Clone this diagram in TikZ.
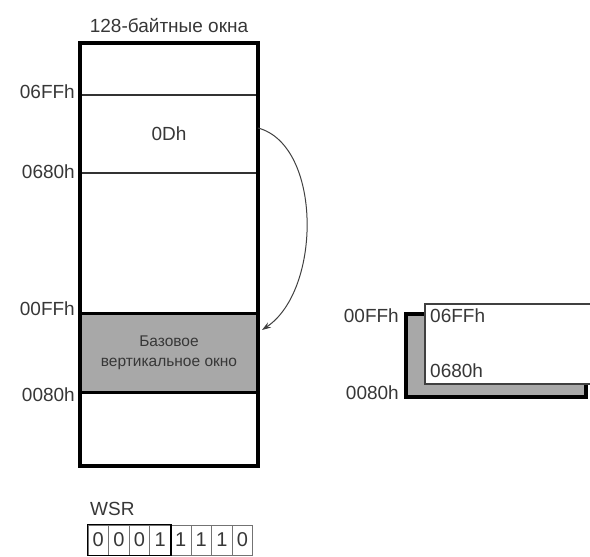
\documentclass[tikz,border=0pt]{standalone}
\usepackage{fontspec}
\setmainfont{Liberation Sans}
\usetikzlibrary{arrows.meta}
\definecolor{fillgray}{RGB}{168,168,168}
\definecolor{txt}{RGB}{55,55,55}
\begin{document}
\begin{tikzpicture}[x=1pt,y=-1pt,
  lbl/.style={font=\fontsize{19}{22}\selectfont, text=txt, inner sep=0pt},
  thickline/.style={line width=3.5pt, black},
  thinline/.style={line width=1.8pt, black!80},
  bitcell/.style={draw=black!55, line width=1pt, minimum width=20.6pt, minimum height=30pt, inner sep=0pt, font=\fontsize{20}{22}\selectfont, text=txt},
  curvearrow/.style={line width=1pt, black!75, -{Stealth[length=9pt,width=6pt]}}]
\useasboundingbox (0,0) rectangle (590,557);

% title
\node[lbl, anchor=base] (title) at (169,32) {128-байтные окна};

% gray base window
\node[fill=fillgray, draw=black, line width=3.5pt, minimum width=178pt, minimum height=79pt, inner sep=0pt,
      align=center, font=\fontsize{15.5}{20}\selectfont, text=txt] (base) at (169,353)
      {Базовое\\вертикальное окно};

% window 0Dh (between 06FFh and 0680h)
\node[minimum width=178pt, minimum height=78pt, inner sep=0pt, lbl] (win) at (169,134) {0Dh};
\draw[thinline] (win.north west) -- (win.north east);
\draw[thinline] (win.south west) -- (win.south east);

% main box
\node[draw=black, line width=3.5pt, minimum width=178pt, minimum height=423pt, inner sep=0pt] (main) at (169,254.5) {};

% address labels
\node[lbl, anchor=base east] (l1) at (75,98) {06FFh};
\node[lbl, anchor=base east] (l2) at (75,178) {0680h};
\node[lbl, anchor=base east] (l3) at (75,315) {00FFh};
\node[lbl, anchor=base east] (l4) at (75,401) {0080h};

% curved arrow
\coordinate (a1) at (258,128);
\coordinate (a2) at (262,330);
\draw[curvearrow] (a1) .. controls (322,145) and (322,290) .. (a2);

% right panel
\node[fill=fillgray, draw=black, line width=4pt, minimum width=180pt, minimum height=83pt, inner sep=0pt, anchor=north west] (shadow) at (404,312) {};
\node[fill=white, draw=black!75, line width=1.5pt, minimum width=180pt, minimum height=80pt, inner sep=0pt, anchor=north west] (front) at (424,303) {};
\node[lbl, anchor=base west] (r1) at (430,322) {06FFh};
\node[lbl, anchor=base west] (r2) at (430,377) {0680h};
\node[lbl, anchor=base east] (r3) at (399,322) {00FFh};
\node[lbl, anchor=base east] (r4) at (399,399) {0080h};

% WSR
\node[lbl, anchor=base west] (wsr) at (90,515) {WSR};
\node[bitcell] (b0) at (98.3,540) {0};
\node[bitcell] (b1) at (118.9,540) {0};
\node[bitcell] (b2) at (139.5,540) {0};
\node[bitcell] (b3) at (160.1,540) {1};
\node[bitcell] (b4) at (180.7,540) {1};
\node[bitcell] (b5) at (201.3,540) {1};
\node[bitcell] (b6) at (221.9,540) {1};
\node[bitcell] (b7) at (242.5,540) {0};
\draw[line width=1.8pt, black] (b0.north west) rectangle (b3.south east);
\end{tikzpicture}
\end{document}
